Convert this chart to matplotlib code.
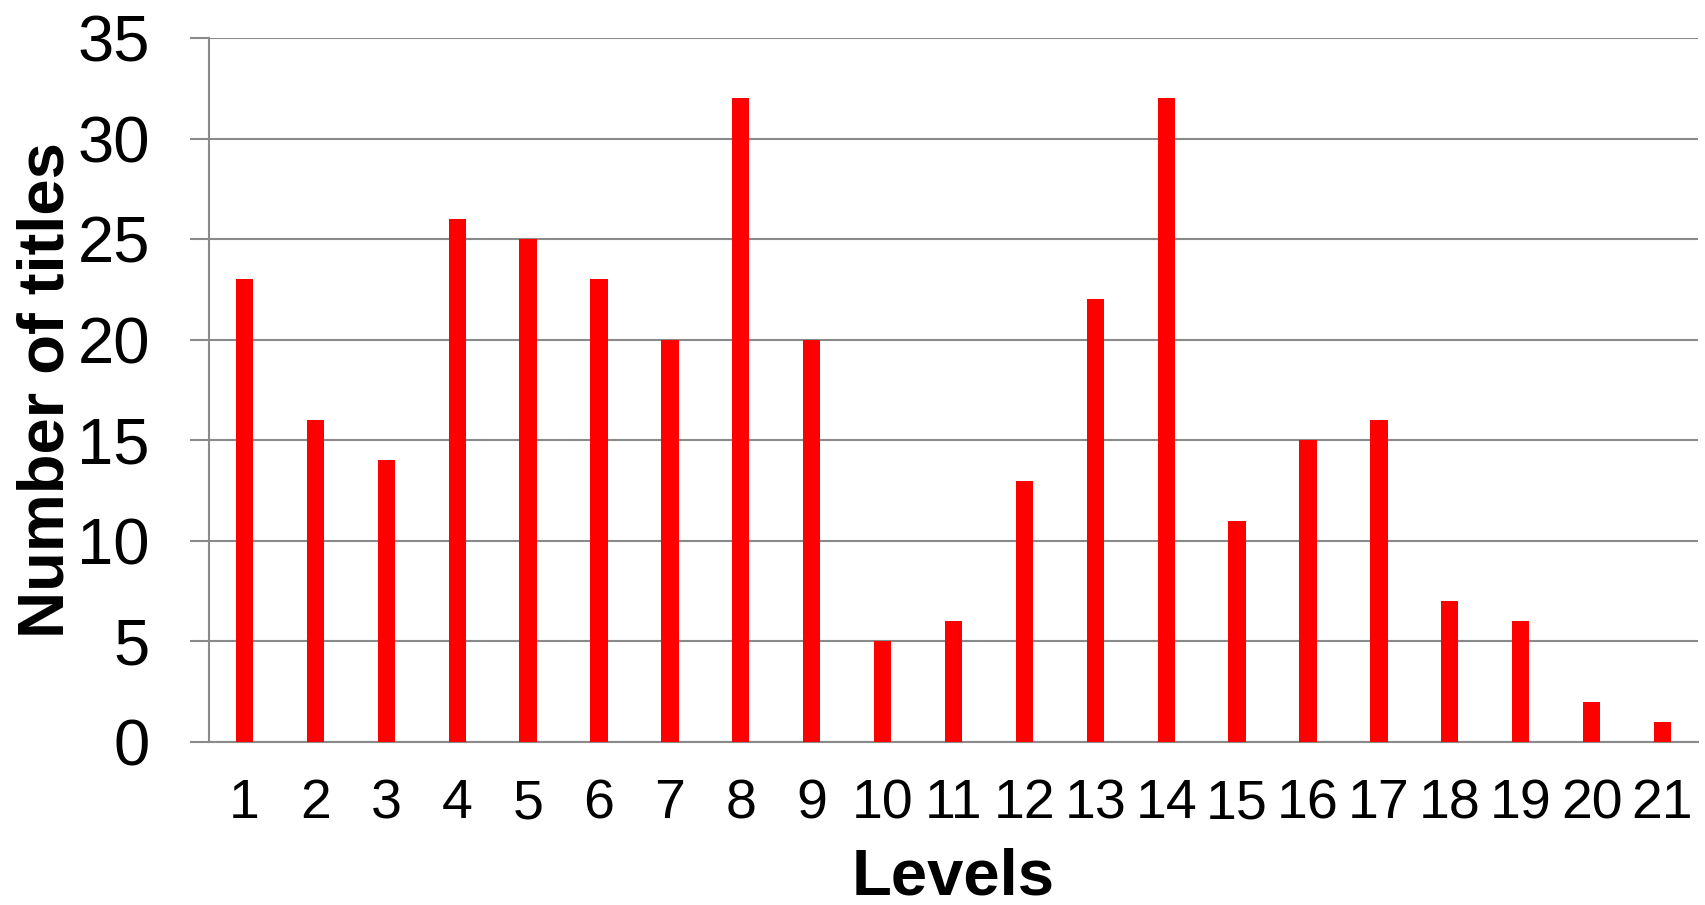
import matplotlib
matplotlib.use('Agg')
from matplotlib import pyplot as plt

levels = list(range(1, 22))
titles = [23, 16, 14, 26, 25, 23, 20, 32, 20, 5, 6, 13, 22, 32, 11, 15, 16, 7, 6, 2, 1]
yticks = [0, 5, 10, 15, 20, 25, 30, 35]

def main():
    plt.rcParams['font.family'] = ['Liberation Sans', 'DejaVu Sans']
    fig = plt.figure(figsize=(17.05, 9.05), dpi=100)
    ax = fig.add_axes([209 / 1705, 163 / 905, 1489 / 1705, 704 / 905])

    grey = '#8a8a8a'
    ax.bar(levels, titles, width=0.244, color='#ff0000', zorder=3)

    ax.set_xlim(0.5, 21.5)
    ax.set_ylim(0, 35)
    ax.set_xticks(levels)
    ax.set_xticklabels([str(v) for v in levels])
    ax.set_yticks(yticks)

    ax.yaxis.grid(True, color=grey, linewidth=1.5, zorder=0)
    ax.set_axisbelow(True)
    for side in ['top', 'right']:
        ax.spines[side].set_visible(False)
    for side in ['left', 'bottom']:
        ax.spines[side].set_color(grey)
        ax.spines[side].set_linewidth(1.5)

    ax.tick_params(axis='y', length=13.7, width=1.5, color=grey, pad=28.8, labelsize=47)
    ax.tick_params(axis='x', length=0, pad=26, labelsize=40)

    ax.set_xlabel('Levels', fontsize=47, fontweight='bold')
    ax.set_ylabel('Number of titles', fontsize=47, fontweight='bold')
    ax.xaxis.set_label_coords(0.5, -0.150)
    ax.yaxis.set_label_coords(-0.089, 0.5)

    fig.savefig('out.png', dpi=100)

if __name__ == '__main__':
    main()
